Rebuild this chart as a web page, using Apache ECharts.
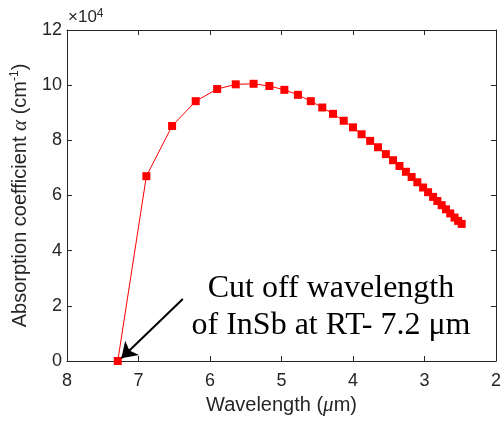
<!DOCTYPE html>
<html>
<head>
<meta charset="utf-8">
<script src="https://cdn.jsdelivr.net/npm/echarts@6/dist/echarts.min.js"></script>
<style>
  html, body { margin: 0; padding: 0; background: #fff; }
  #chart { width: 504px; height: 424px; }
</style>
</head>
<body>
<div id="chart"></div>
<script>
// Absorption coefficient of InSb vs. wavelength (values in units of 1e4 cm^-1)
const wavelengthUm = [
  7.29, 6.89, 6.53, 6.20, 5.90, 5.64, 5.39, 5.17, 4.96, 4.77,
  4.59, 4.43, 4.28, 4.13, 4.00, 3.88, 3.76, 3.65, 3.54, 3.44,
  3.35, 3.26, 3.18, 3.10, 3.02, 2.95, 2.88, 2.82, 2.76, 2.70,
  2.64, 2.58, 2.53, 2.48
];
const alphaE4 = [
  0.00, 6.70, 8.52, 9.42, 9.86, 10.03, 10.05, 9.97, 9.83, 9.65,
  9.42, 9.19, 8.96, 8.71, 8.47, 8.22, 7.98, 7.75, 7.50, 7.28,
  7.07, 6.86, 6.67, 6.48, 6.29, 6.12, 5.95, 5.80, 5.65, 5.50,
  5.35, 5.20, 5.08, 4.97
];
const xTicks = [8, 7, 6, 5, 4, 3, 2];
const yTicks = [0, 2, 4, 6, 8, 10, 12];

// Annotation arrow: tail and head in data space (wavelength, alpha)
const arrowTail = [6.38, 2.25];
const arrowHead = [7.24, 0.10];
const annotationText = 'Cut off wavelength\nof InSb at RT- 7.2 μm';

const axisColor = '#262626';
const sansFont = '"Liberation Sans", Arial, sans-serif';
const serifFont = '"Liberation Serif", "Times New Roman", serif';

const chart = echarts.init(document.getElementById('chart'), null, { renderer: 'canvas' });

const baseX = {
  type: 'value',
  min: xTicks[xTicks.length - 1],
  max: xTicks[0],
  interval: 1,
  inverse: true,
  splitLine: { show: false },
  axisLine: { show: true, onZero: false, lineStyle: { color: axisColor, width: 1 } },
  axisTick: { show: true, inside: true, length: 5, lineStyle: { color: axisColor } }
};
const baseY = {
  type: 'value',
  min: yTicks[0],
  max: yTicks[yTicks.length - 1],
  interval: 2,
  splitLine: { show: false },
  axisLine: { show: true, onZero: false, lineStyle: { color: axisColor, width: 1 } },
  axisTick: { show: true, inside: true, length: 5, lineStyle: { color: axisColor } }
};

chart.setOption({
  animation: false,
  backgroundColor: '#ffffff',
  grid: { left: 67, right: 4, top: 30, bottom: 63, containLabel: false },
  xAxis: [
    Object.assign({}, baseX, {
      position: 'bottom',
      axisLabel: { show: true, margin: 11, color: axisColor, fontSize: 18, fontFamily: sansFont },
      name: 'Wavelength ({i|μ}m)',
      nameLocation: 'middle',
      nameGap: 33,
      nameTextStyle: {
        color: axisColor, fontSize: 20, fontFamily: sansFont,
        rich: { i: { fontStyle: 'italic', fontSize: 21, fontFamily: serifFont, color: axisColor } }
      }
    }),
    Object.assign({}, baseX, { position: 'top', axisLabel: { show: false } })
  ],
  yAxis: [
    Object.assign({}, baseY, {
      position: 'left',
      axisLabel: { show: true, margin: 5, color: axisColor, fontSize: 18, fontFamily: sansFont },
      name: 'Absorption coefficient {i|α} (cm{s|-1})',
      nameLocation: 'middle',
      nameRotate: 90,
      nameGap: 29,
      nameTextStyle: {
        color: axisColor, fontSize: 20, fontFamily: sansFont, lineHeight: 22,
        rich: {
          i: { fontStyle: 'italic', fontSize: 21, fontFamily: serifFont, color: axisColor, lineHeight: 22 },
          s: { fontSize: 12, fontFamily: sansFont, color: axisColor, verticalAlign: 'top', lineHeight: 22, padding: [0, 0, 8, 0] }
        }
      }
    }),
    Object.assign({}, baseY, { position: 'right', axisLabel: { show: false } })
  ],
  series: [{
    type: 'line',
    xAxisIndex: 0,
    yAxisIndex: 0,
    data: wavelengthUm.map((w, i) => [w, alphaE4[i]]),
    symbol: 'rect',
    symbolSize: 8,
    showSymbol: true,
    clip: false,
    lineStyle: { color: '#ff0000', width: 1 },
    itemStyle: { color: '#ff0000' },
    markLine: {
      silent: true,
      symbol: ['none', 'arrow'],
      symbolSize: 15,
      label: { show: false },
      lineStyle: { color: '#000000', width: 2, type: 'solid' },
      data: [[{ coord: arrowTail }, { coord: arrowHead }]]
    }
  }],
  graphic: [
    {
      type: 'text',
      left: 68,
      top: 8,
      style: {
        text: '×10{s|4}',
        fill: axisColor,
        font: '17px ' + sansFont,
        rich: { s: { fontSize: 12, fontFamily: sansFont, fill: axisColor, verticalAlign: 'top', padding: [0, 0, 7, 0] } }
      }
    },
    {
      type: 'text',
      x: 331,
      y: 270,
      style: {
        text: annotationText,
        fill: '#000000',
        font: '32px ' + serifFont,
        align: 'center',
        verticalAlign: 'top',
        lineHeight: 37
      }
    }
  ]
});
</script>
</body>
</html>
